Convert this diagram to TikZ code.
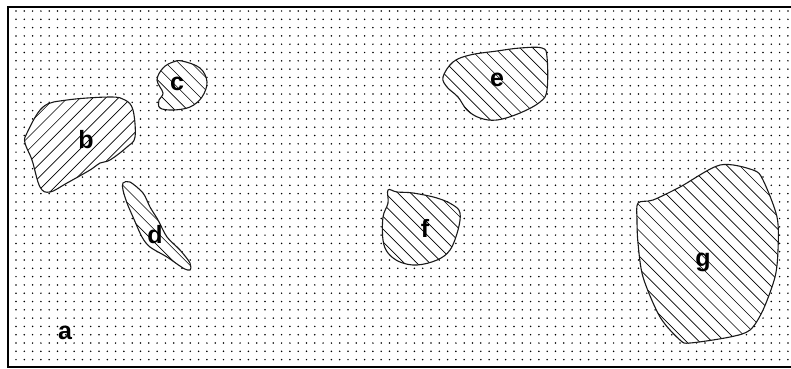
\documentclass[tikz,border=0pt]{standalone}
\usepackage{fontspec}
\setmainfont{Liberation Sans}

% grain: #1 hatch direction (1 = "\", -1 = "/"), #2 tension, #3 outline points
\newcommand{\drawgrain}[3]{%
  \begin{scope}
    \clip plot[smooth cycle, tension=#2] coordinates {#3};
    \fill[white] (0,0) rectangle (791,368);
    \foreach \k in {0,...,91}
      \draw[hatch] ({\k*12.73-368+368*(1-#1)/2},0) -- ++({368*#1},368);
  \end{scope}
  \draw[outline] plot[smooth cycle, tension=#2] coordinates {#3};
}

\begin{document}
\begin{tikzpicture}[
        x=1pt, y=-1pt,
        dot/.style={fill=black},
        hatch/.style={line width=0.65pt, black},
        outline/.style={line width=1.1pt, black!90},
        lbl/.style={
          font=\bfseries\fontsize{25}{25}\selectfont,
          inner sep=0pt
        }
      ]

      \useasboundingbox (0,0) rectangle (791,368);

      % dotted ground
      \foreach \i in {0,...,93}
        \foreach \j in {0,...,42}
          \fill[dot] ({16+8.3*\i},{11+8.3*\j}) circle (0.85pt);

      % frame, open to the right
      \draw[line width=1.4pt] (792,367) -- (8,367) -- (8,7) -- (792,7);

      % grains
      \drawgrain{-1}{0.6}{
        (27,133) (43,107) (67,100) (110,97) (125,100) (133,110) (135,137)
        (127,147) (110,160) (100,163) (90,170) (67,183) (50,192) (40,187)
        (32,160) (25,143)}

      \drawgrain{1}{0.6}{
        (182,61) (200,68) (207,82) (202,97) (190,107) (173,110) (160,108)
        (159,100) (163,93) (157,80) (163,68) (173,62)}

      \drawgrain{1}{0.5}{
        (123,183) (130,182) (143,193) (150,207) (158,220) (167,237) (180,250)
        (190,263) (190,270) (183,268) (167,257) (150,247) (142,237) (133,217)
        (127,203) (123,190)}

      \drawgrain{1}{0.6}{
        (443,77) (453,62) (470,55) (497,51) (520,48) (542,48) (547,57)
        (547,90) (540,102) (520,113) (497,120) (480,118) (467,110) (458,97)
        (447,87)}

      \drawgrain{1}{0.6}{
        (388,190) (397,192) (413,193) (437,198) (453,205) (460,213) (458,230)
        (450,250) (437,260) (417,265) (400,262) (388,253) (383,240) (383,217)
        (388,203)}

      \drawgrain{1}{0.5}{
        (638,203) (653,200) (680,187) (720,165) (753,170) (763,180) (777,217)
        (778,250) (775,277) (763,310) (750,330) (730,337) (690,343) (680,340)
        (660,317) (643,277) (638,243) (637,220)}

      % labels
      \node[lbl] (a) at (65,333) {a};
      \node[lbl] (b) at (86,140) {b};
      \node[lbl] (c) at (177,84) {c};
      \node[lbl] (d) at (155,235) {d};
      \node[lbl] (e) at (497,80) {e};
      \node[lbl] (f) at (425,228) {f};
      \node[lbl] (g) at (703,262) {g};

      \end{tikzpicture}
\end{document}
